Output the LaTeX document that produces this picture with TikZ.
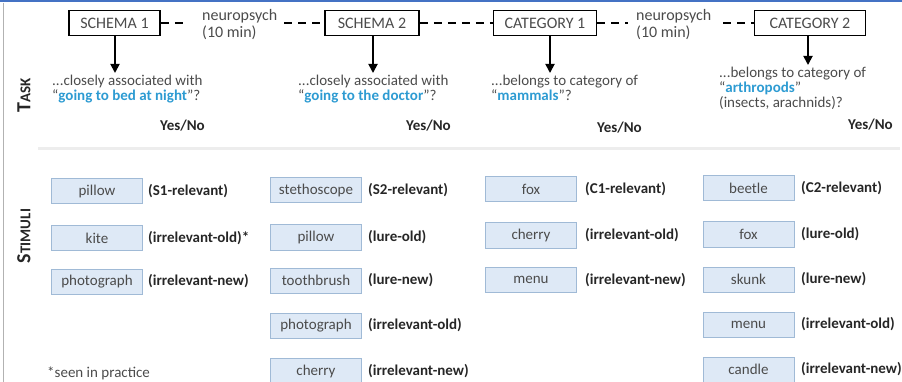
\documentclass[tikz,border=0pt]{standalone}
\usepackage{fontspec}
\setmainfont{Carlito}
\usetikzlibrary{arrows.meta}
\definecolor{kwblue}{RGB}{45,155,210}
\definecolor{txtgray}{RGB}{75,75,75}
\definecolor{stimfill}{RGB}{222,233,246}
\definecolor{stimdraw}{RGB}{160,186,214}
\definecolor{topblue}{RGB}{68,114,196}
\tikzset{
  phase/.style={draw=black, line width=1.8pt, minimum height=25pt, inner sep=0pt, font=\fontsize{16}{18}\selectfont, text=txtgray},
  gap/.style={align=left, anchor=west, inner sep=0pt, font=\fontsize{16}{17}\selectfont, text=txtgray},
  link/.style={line width=1.8pt, dash pattern=on 8pt off 6pt},
  down/.style={line width=1.8pt, -{Triangle[width=9pt,length=9pt]}},
  task/.style={align=left, anchor=north west, inner sep=0pt, font=\fontsize{15}{15}\selectfont, text=txtgray},
  yn/.style={anchor=west, inner sep=0pt, font=\fontsize{15}{17}\selectfont\bfseries, text=black!85},
  stim/.style={draw=stimdraw, fill=stimfill, line width=1pt, minimum width=91pt, minimum height=25pt, inner sep=0pt, font=\fontsize{15}{17}\selectfont, text=txtgray},
  role/.style={anchor=west, inner sep=0pt, font=\fontsize{15}{17}\selectfont\bfseries, text=black!85},
  side/.style={rotate=90, inner sep=0pt, font=\bfseries, text=black!85},
}
\newcommand{\kw}[1]{\textcolor{kwblue}{\textbf{#1}}}
\begin{document}
\begin{tikzpicture}[x=1pt, y=-1pt]
\useasboundingbox (0,0) rectangle (902,382);
% frame
\draw[topblue, line width=2pt] (0,1.5) -- (902,1.5);
\draw[black!30, line width=0.8pt] (3.5,3) -- (3.5,382);
\draw[black!7, line width=3pt] (38,149) -- (900,149);

% side labels
\node[side] (tasklbl) at (24,95) {{\fontsize{20}{20}\selectfont T}{\fontsize{15}{15}\selectfont ASK}};
\node[side] (stimlbl) at (24,236) {{\fontsize{20}{20}\selectfont S}{\fontsize{15}{15}\selectfont TIMULI}};

% phases
\node[phase, minimum width=91pt] (s1) at (114.5,23) {SCHEMA 1};
\node[phase, minimum width=94pt] (s2) at (372,23) {SCHEMA 2};
\node[phase, minimum width=103pt] (c1) at (545,23) {CATEGORY 1};
\node[phase, minimum width=111pt] (c2) at (810,23) {CATEGORY 2};
\node[gap] (n1) at (202,25) {neuropsych\\(10 min)};
\node[gap] (n2) at (636,25) {neuropsych\\(10 min)};

\draw[link] (s1.east) -- ([xshift=-16pt]s1.east -| n1.west);
\draw[link] ([xshift=7pt]s1.east -| n1.east) -- (s2.west);
\draw[link] (s2.east) -- (c1.west);
\draw[link] (c1.east) -- ([xshift=-8pt]c1.east -| n2.west);
\draw[link] ([xshift=12pt]c1.east -| n2.east) -- (c2.west);

% arrows
\coordinate (t1) at (115,73);
\coordinate (t2) at (373,73);
\coordinate (t3) at (550,73);
\coordinate (t4) at (808,65);
\draw[down] (s1.south -| t1) -- (t1);
\draw[down] (s2.south -| t2) -- (t2);
\draw[down] (c1.south -| t3) -- (t3);
\draw[down] (c2.south -| t4) -- (t4);

% task texts
\node[task] (q1) at (52,75) {...closely associated with\\``\kw{going to bed at night}''?};
\node[task] (q2) at (298,75) {...closely associated with\\``\kw{going to the doctor}''?};
\node[task] (q3) at (491,75) {...belongs to category of\\``\kw{mammals}''?};
\node[task] (q4) at (719,67) {...belongs to category of\\``\kw{arthropods}''\\(insects, arachnids)?};
\node[yn] (y1) at (160,126) {Yes/No};
\node[yn] (y2) at (406,126) {Yes/No};
\node[yn] (y3) at (597,128) {Yes/No};
\node[yn] (y4) at (848,125) {Yes/No};

% stimuli column 1
\node[stim] (a1) at (97,191.5) {pillow};
\node[stim] (a2) at (97,238) {kite};
\node[stim] (a3) at (97,281.5) {photograph};
\node[role] at (148,191.5) {(S1-relevant)};
\node[role] at (148,238) {(irrelevant-old)*};
\node[role] at (148,281.5) {(irrelevant-new)};
% column 2
\node[stim] (b1) at (316,190.5) {stethoscope};
\node[stim] (b2) at (316,237.5) {pillow};
\node[stim] (b3) at (316,280.5) {toothbrush};
\node[stim] (b4) at (316,325.5) {photograph};
\node[stim] (b5) at (316,371) {cherry};
\node[role] at (368,190.5) {(S2-relevant)};
\node[role] at (368,237.5) {(lure-old)};
\node[role] at (368,280.5) {(lure-new)};
\node[role] at (368,325.5) {(irrelevant-old)};
\node[role] at (368,371) {(irrelevant-new)};
% column 3
\node[stim] (c31) at (531,189.5) {fox};
\node[stim] (c32) at (531,235.5) {cherry};
\node[stim] (c33) at (531,280) {menu};
\node[role] at (585,189.5) {(C1-relevant)};
\node[role] at (585,235.5) {(irrelevant-old)};
\node[role] at (585,280) {(irrelevant-new)};
% column 4
\node[stim] (d1) at (748.5,188.5) {beetle};
\node[stim] (d2) at (748.5,234.5) {fox};
\node[stim] (d3) at (748.5,279.5) {skunk};
\node[stim] (d4) at (748.5,324.5) {menu};
\node[stim] (d5) at (748.5,369.5) {candle};
\node[role] at (801,188.5) {(C2-relevant)};
\node[role] at (801,234.5) {(lure-old)};
\node[role] at (801,279.5) {(lure-new)};
\node[role] at (801,324.5) {(irrelevant-old)};
\node[role] at (801,369.5) {(irrelevant-new)};

\node[anchor=west, inner sep=0pt, font=\fontsize{15}{17}\selectfont, text=txtgray] (foot) at (47,373) {*seen in practice};
\end{tikzpicture}
\end{document}
